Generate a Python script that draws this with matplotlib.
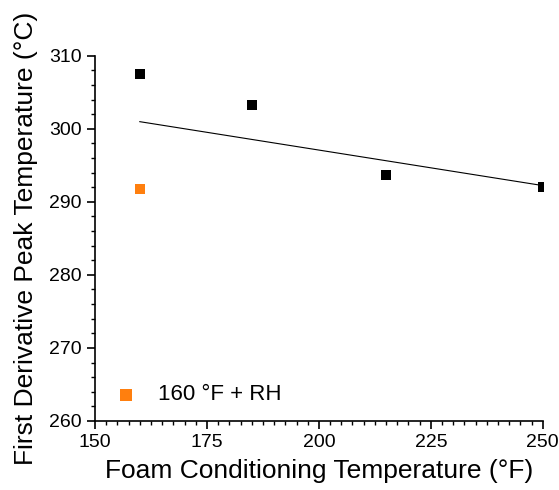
import matplotlib
matplotlib.use("Agg")
import matplotlib.pyplot as plt
import numpy as np
from matplotlib.ticker import MultipleLocator

plt.rcParams['font.family'] = ['Liberation Sans', 'DejaVu Sans']

x_dry = [160, 185, 215, 250]
y_dry = [307.5, 303.3, 293.7, 292.1]
x_rh = [160]
y_rh = [291.8]
legend_label = "160 °F + RH"

fig = plt.figure(figsize=(5.59, 4.90), dpi=100)
ax = fig.add_axes([0.170, 0.141, 0.801, 0.745])

ax.scatter(x_dry, y_dry, marker='s', s=45, color='black', zorder=3, linewidths=0)
ax.scatter(x_rh, y_rh, marker='s', s=45, color='#ff7f0e', zorder=3, linewidths=0,
           label=legend_label)

all_x = np.array(x_dry + x_rh)
all_y = np.array(y_dry + y_rh)
m, b = np.polyfit(all_x, all_y, 1)
xl = np.array([min(all_x), max(all_x)])
ax.plot(xl, m * xl + b, color='black', lw=0.8, zorder=2)

ax.set_xlim(150, 250)
ax.set_ylim(260, 310)
ax.xaxis.set_major_locator(MultipleLocator(25))
ax.xaxis.set_minor_locator(MultipleLocator(2.5))
ax.yaxis.set_major_locator(MultipleLocator(10))
ax.yaxis.set_minor_locator(MultipleLocator(2))
ax.spines['top'].set_visible(False)
ax.spines['right'].set_visible(False)
for s in ['left', 'bottom']:
    ax.spines[s].set_linewidth(1.2)
ax.tick_params(which='major', direction='out', length=6, width=1.2, labelsize=14)
ax.tick_params(which='minor', direction='out', length=3, width=1.0)

ax.set_xlabel("Foam Conditioning Temperature (°F)", fontsize=19, labelpad=6)
ax.set_ylabel("First Derivative Peak Temperature (°C)", fontsize=19, labelpad=8)

ax.legend(loc='lower left', bbox_to_anchor=(0.0, 0.018), frameon=False, fontsize=16,
          handlelength=2.0, handletextpad=0.45, markerscale=1.3,
          borderaxespad=0.1, borderpad=0.3)

fig.savefig("out.png", dpi=100)
